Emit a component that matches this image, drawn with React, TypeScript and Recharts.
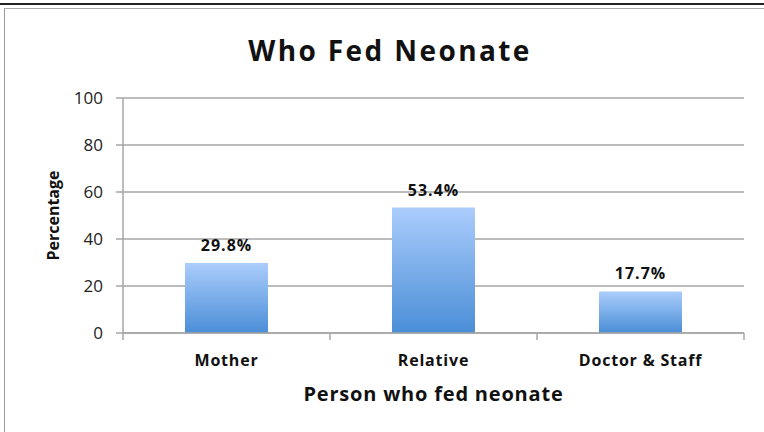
import { BarChart, Bar, XAxis, YAxis, CartesianGrid, LabelList } from 'recharts';

const categories = ['Mother', 'Relative', 'Doctor & Staff'];
const percentages = [29.8, 53.4, 17.7];
const yTicks = [0, 20, 40, 60, 80, 100];

const data = categories.map((name, i) => ({ name, value: percentages[i] }));

const FONT = '"Open Sans", sans-serif';
const AXIS_GREY = '#a6a6a6';
const TICK_MARGIN = 22;

// Excel puts the category tick marks between the bars, so draw them at the band edges
function CategoryTick(props: any) {
  const { x, y, payload, index, visibleTicksCount } = props;
  const half = payload?.offset ?? 0;
  const axisY = y - TICK_MARGIN;
  const isLast = index === visibleTicksCount - 1;
  return (
    <g>
      <line x1={x - half} x2={x - half} y1={axisY} y2={axisY + 7} stroke={AXIS_GREY} strokeWidth={1.5} />
      {isLast && (
        <line x1={x + half} x2={x + half} y1={axisY} y2={axisY + 7} stroke={AXIS_GREY} strokeWidth={1.5} />
      )}
      <text
        x={x}
        y={y}
        dy="0.71em"
        textAnchor="middle"
        fontSize={16}
        fontWeight={700}
        fill="#111"
        fontFamily={FONT}
        letterSpacing={0.8}
      >
        {payload.value}
      </text>
    </g>
  );
}

export default function App() {
  return (
    <div style={{ position: 'relative', width: 764, height: 432, background: '#fff', fontFamily: FONT }}>
      <style>{'body{margin:0}'}</style>
      {/* frame from the source document */}
      <div style={{ position: 'absolute', left: 0, top: 3, width: 764, height: 2, background: '#222' }} />
      <div
        style={{
          position: 'absolute',
          left: 4,
          top: 8,
          width: 780,
          height: 440,
          borderLeft: '1.5px solid #999',
          borderTop: '1.5px solid #aaa',
        }}
      />
      <div
        style={{
          position: 'absolute',
          left: 190,
          top: 32,
          width: 400,
          textAlign: 'center',
          fontSize: 28,
          fontWeight: 700,
          letterSpacing: 2.4,
          color: '#111',
          lineHeight: '37px',
        }}
      >
        Who Fed Neonate
      </div>
      <div style={{ position: 'absolute', left: 0, top: 0 }}>
        <BarChart
          width={764}
          height={432}
          data={data}
          margin={{ top: 98, right: 20, bottom: 29, left: 0 }}
        >
          <defs>
            <linearGradient id="barFill" x1="0" y1="0" x2="0" y2="1">
              <stop offset="0%" stopColor="#abcdfc" />
              <stop offset="100%" stopColor="#4a8ed7" />
            </linearGradient>
          </defs>
          <CartesianGrid vertical={false} stroke={AXIS_GREY} strokeWidth={1.5} />
          <XAxis
            dataKey="name"
            height={70}
            axisLine={{ stroke: AXIS_GREY, strokeWidth: 1.5 }}
            tickLine={false}
            tickSize={0}
            tickMargin={TICK_MARGIN}
            tick={<CategoryTick />}
            label={{
              value: 'Person who fed neonate',
              position: 'insideBottom',
              offset: 2,
              style: { fontSize: 20, fontWeight: 700, fill: '#111', fontFamily: FONT, letterSpacing: 0.8 },
            }}
          />
          <YAxis
            width={123}
            domain={[0, 100]}
            ticks={yTicks}
            axisLine={{ stroke: AXIS_GREY, strokeWidth: 1.5 }}
            tickLine={{ stroke: AXIS_GREY, strokeWidth: 1.5 }}
            tickSize={7}
            tickMargin={13}
            tick={{ fontSize: 17, fill: '#222', fontFamily: FONT }}
            label={{
              value: 'Percentage',
              angle: -90,
              position: 'insideLeft',
              offset: 53,
              style: { textAnchor: 'middle', fontSize: 16, fontWeight: 700, fill: '#111', fontFamily: FONT },
            }}
          />
          <Bar dataKey="value" fill="url(#barFill)" barSize={83} isAnimationActive={false}>
            <LabelList
              dataKey="value"
              position="top"
              offset={12}
              formatter={(v: number) => `${v}%`}
              style={{ fontSize: 16, fontWeight: 700, fill: '#111', fontFamily: FONT, letterSpacing: 1 }}
            />
          </Bar>
        </BarChart>
      </div>
    </div>
  );
}
